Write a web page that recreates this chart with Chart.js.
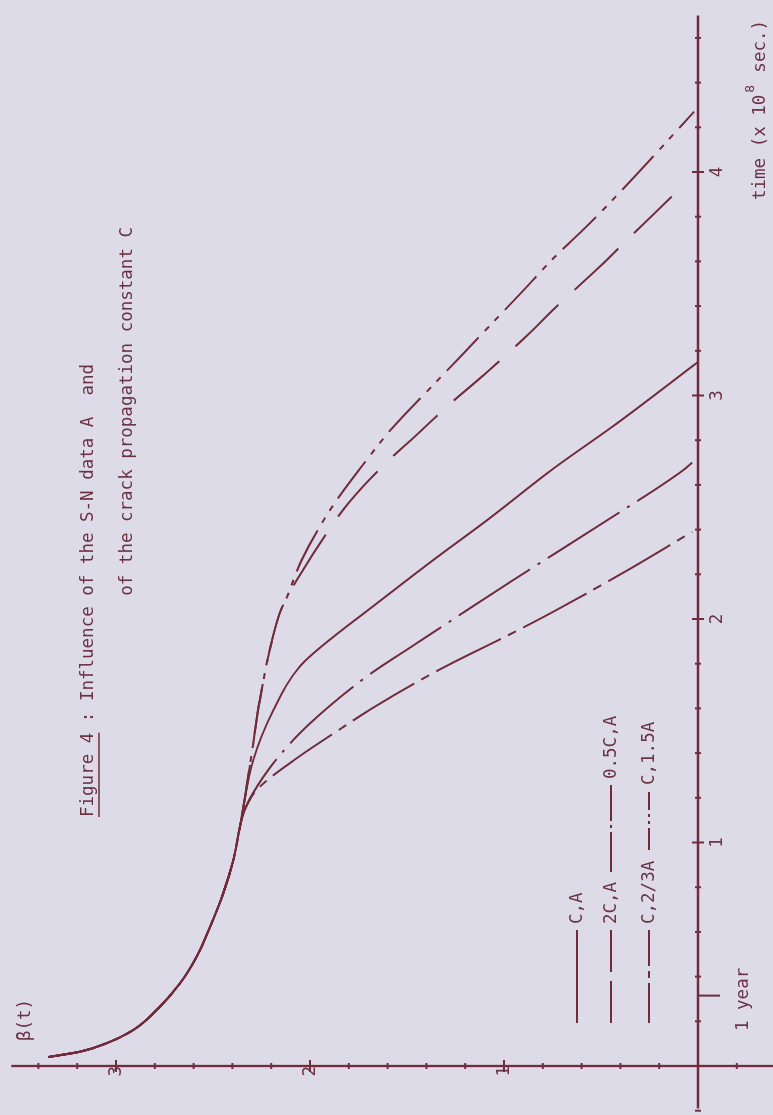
<!DOCTYPE html>
<html>
<head>
<meta charset="utf-8">
<script src="https://cdn.jsdelivr.net/npm/chart.js@4/dist/chart.umd.min.js"></script>
<style>
html,body{margin:0;padding:0;background:#dedbe9;overflow:hidden;width:773px;height:1115px}
#wrap{position:absolute;left:0;top:0;width:1115px;height:773px;transform-origin:0 0;transform:translate(0,1115px) rotate(-90deg);}
canvas{display:block;background:#dedbe9}
</style>
</head>
<body>
<div id="wrap"><canvas id="c" width="1115" height="773"></canvas></div>
<script>
// ---- data (t in 1e8 s, beta) ----
const T_COMMON = [0.04, 0.064, 0.102, 0.161, 0.251, 0.370, 0.489, 0.623, 0.773, 0.922, 1.071];
const B_COMMON = [3.35, 3.186, 3.048, 2.911, 2.790, 2.670, 2.584, 2.515, 2.447, 2.395, 2.361];

const T_UPPER = [1.40, 1.64, 1.89, 2.04, 2.085];
const B_UPPER = [2.300, 2.258, 2.200, 2.150, 2.125];

const T_C15A = [2.26, 2.49, 2.67, 2.86, 3.02, 3.16, 3.32, 3.47, 3.61, 3.76, 3.93, 4.08, 4.27];
const B_C15A = [2.045, 1.895, 1.745, 1.570, 1.395, 1.240, 1.065, 0.900, 0.750, 0.57, 0.38, 0.22, 0.02];

const T_2CA = [2.20, 2.37, 2.52, 2.71, 2.80, 2.965, 3.095, 3.29, 3.385, 3.59, 3.68, 3.89];
const B_2CA = [2.05, 1.925, 1.80, 1.595, 1.48, 1.275, 1.10, 0.855, 0.745, 0.49, 0.385, 0.135];

const T_CA = [1.37, 1.59, 1.79, 1.92, 2.04, 2.26, 2.45, 2.67, 2.88, 3.15];
const B_CA = [2.292, 2.19, 2.05, 1.88, 1.70, 1.37, 1.075, 0.75, 0.41, 0.0];

const T_LOWER = [1.15];
const B_LOWER = [2.335];

const T_05CA = [1.294, 1.46, 1.61, 1.76, 1.88, 2.04, 2.17, 2.43, 2.67, 2.70];
const B_05CA = [2.24, 2.085, 1.90, 1.68, 1.47, 1.19, 0.96, 0.49, 0.07, 0.03];

const T_C23A = [1.235, 1.37, 1.49, 1.60, 1.77, 1.94, 2.04, 2.22, 2.39];
const B_C23A = [2.275, 2.08, 1.875, 1.68, 1.34, 0.95, 0.73, 0.36, 0.03];

const SERIES_NAMES = ['C,A', '2C,A', '0.5C,A', 'C,2/3A', 'C,1.5A'];
const TICKS_T = [1, 2, 3, 4];
const TICKS_B = [1, 2, 3];
const ONE_YEAR = 0.315; // 1 year in 1e8 s
const TITLE_1 = 'Figure 4 : Influence of the S-N data A  and';
const TITLE_2 = 'of the crack propagation constant C';

// ---- style ----
const INK = '#702c3a';
const TXT = '#6a3242';
const FONT = '17.5px "DejaVu Sans Mono", "Liberation Mono", monospace';

function pts(ts, bs) { return ts.map((t, i) => ({x: t, y: bs[i]})); }
const common = pts(T_COMMON, B_COMMON);
const upper = pts(T_UPPER, B_UPPER);
const lower = pts(T_LOWER, B_LOWER);

const DASH = {
  'C,A': [],
  '2C,A': [60, 22],
  '0.5C,A': [85, 9, 3, 9],
  'C,2/3A': [72, 8, 9, 8],
  'C,1.5A': [46, 9, 6, 8, 6, 9]
};

function ds(name, data) {
  return {label: name, data, borderColor: INK, borderWidth: 2, borderDash: DASH[name],
    pointRadius: 0, fill: false, cubicInterpolationMode: 'monotone', clip: false};
}

const datasets = [
  ds('C,A', common.concat(pts(T_CA, B_CA))),
  ds('2C,A', common.concat(upper, pts(T_2CA, B_2CA))),
  ds('0.5C,A', common.concat(lower, pts(T_05CA, B_05CA))),
  ds('C,2/3A', common.concat(lower, pts(T_C23A, B_C23A))),
  ds('C,1.5A', common.concat(upper, pts(T_C15A, B_C15A)))
];

const axesPlugin = {
  id: 'axesDraw',
  beforeDatasetsDraw(chart) {
    const {ctx} = chart; const x = chart.scales.x, y = chart.scales.y;
    const X = v => x.getPixelForValue(v), Y = v => y.getPixelForValue(v);
    const x0 = X(0), y0 = Y(0);
    ctx.save();
    ctx.strokeStyle = INK; ctx.lineCap = 'butt';
    ctx.lineWidth = 2.3;
    ctx.beginPath(); ctx.moveTo(X(-0.19), y0); ctx.lineTo(X(4.70), y0); ctx.stroke();
    ctx.beginPath(); ctx.moveTo(x0, Y(-0.4)); ctx.lineTo(x0, Y(3.54)); ctx.stroke();
    ctx.lineWidth = 2;
    for (let k = -1; k <= 23; k++) {
      const v = k * 0.2; if (k === 0) continue;
      const major = k % 5 === 0; const h = major ? 6 : 3;
      ctx.beginPath(); ctx.moveTo(X(v), y0 - h); ctx.lineTo(X(v), y0 + h); ctx.stroke();
    }
    for (let k = -1; k <= 17; k++) {
      const v = k * 0.2; if (k === 0) continue;
      const major = k % 5 === 0; const h = major ? 6 : 3;
      ctx.beginPath(); ctx.moveTo(x0 - h, Y(v)); ctx.lineTo(x0 + h, Y(v)); ctx.stroke();
    }
    // 1 year marker
    ctx.beginPath(); ctx.moveTo(X(ONE_YEAR), y0); ctx.lineTo(X(ONE_YEAR), y0 + 22); ctx.stroke();
    ctx.restore();
  }
};

const textPlugin = {
  id: 'texts',
  afterDraw(chart) {
    const {ctx} = chart;
    ctx.save();
    ctx.fillStyle = TXT; ctx.strokeStyle = INK; ctx.font = FONT;
    ctx.textBaseline = 'middle'; ctx.textAlign = 'left';
    // title
    const tx = 298;
    ctx.fillText(TITLE_1, tx, 88);
    const off = ctx.measureText('Figure 4 : Influence ').width;
    ctx.fillText(TITLE_2, tx + off, 127);
    const uw = ctx.measureText('Figure 4').width;
    ctx.lineWidth = 1.5;
    ctx.beginPath(); ctx.moveTo(tx, 99); ctx.lineTo(tx + uw, 99); ctx.stroke();
    // beta label
    ctx.fillText('\u03b2(t)', 74, 25);
    // 1 year
    ctx.fillText('1 year', 84, 743);
    // time axis label
    const lx = 915, ly = 760;
    ctx.fillText('time (x 10', lx, ly);
    let w = ctx.measureText('time (x 10').width;
    ctx.font = '13px "DejaVu Sans Mono", monospace';
    ctx.fillText('8', lx + w + 2, ly - 9);
    ctx.font = FONT;
    ctx.fillText('sec.)', lx + w + 22, ly);
    // legend
    ctx.lineWidth = 2;
    function seg(a, b, yy) { ctx.beginPath(); ctx.moveTo(a, yy); ctx.lineTo(b, yy); ctx.stroke(); }
    let r = 577; seg(92, 185, r); ctx.fillText(SERIES_NAMES[0], 191, r);
    r = 611; seg(92, 134, r); seg(143, 185, r); ctx.fillText(SERIES_NAMES[1], 191, r);
    seg(243, 283, r); seg(287, 290, r); seg(294, 330, r); ctx.fillText(SERIES_NAMES[2], 336, r);
    r = 649; seg(92, 132, r); seg(137, 144, r); seg(149, 185, r); ctx.fillText(SERIES_NAMES[3], 191, r);
    seg(265, 287, r); seg(291, 294, r); seg(298, 301, r); seg(305, 323, r); ctx.fillText(SERIES_NAMES[4], 330, r);
    ctx.restore();
  }
};

const T_MIN = -0.12975, T_MAX = 4.68009, B_MIN = -0.28351, B_MAX = 3.49485;

new Chart(document.getElementById('c'), {
  type: 'line',
  data: {datasets},
  options: {
    responsive: false, animation: false, parsing: true,
    layout: {padding: {left: 20, right: 20, top: 20, bottom: 20}},
    plugins: {legend: {display: false}, title: {display: false}, tooltip: {enabled: false}},
    scales: {
      x: {type: 'linear', min: T_MIN, max: T_MAX, position: {y: 0},
        grid: {display: false, drawTicks: false}, border: {display: false},
        afterBuildTicks: s => { s.ticks = TICKS_T.map(v => ({value: v})); },
        ticks: {color: TXT, font: {family: '"DejaVu Sans Mono", monospace', size: 17.5}, padding: 9,
          maxRotation: 0, autoSkip: false, callback: v => String(v)}},
      y: {type: 'linear', min: B_MIN, max: B_MAX, position: {x: 0},
        grid: {display: false, drawTicks: false}, border: {display: false},
        afterBuildTicks: s => { s.ticks = TICKS_B.map(v => ({value: v})); },
        ticks: {color: TXT, font: {family: '"DejaVu Sans Mono", monospace', size: 17.5}, padding: 9,
          autoSkip: false, callback: v => String(v)}}
    }
  },
  plugins: [axesPlugin, textPlugin]
});
</script>
</body>
</html>
